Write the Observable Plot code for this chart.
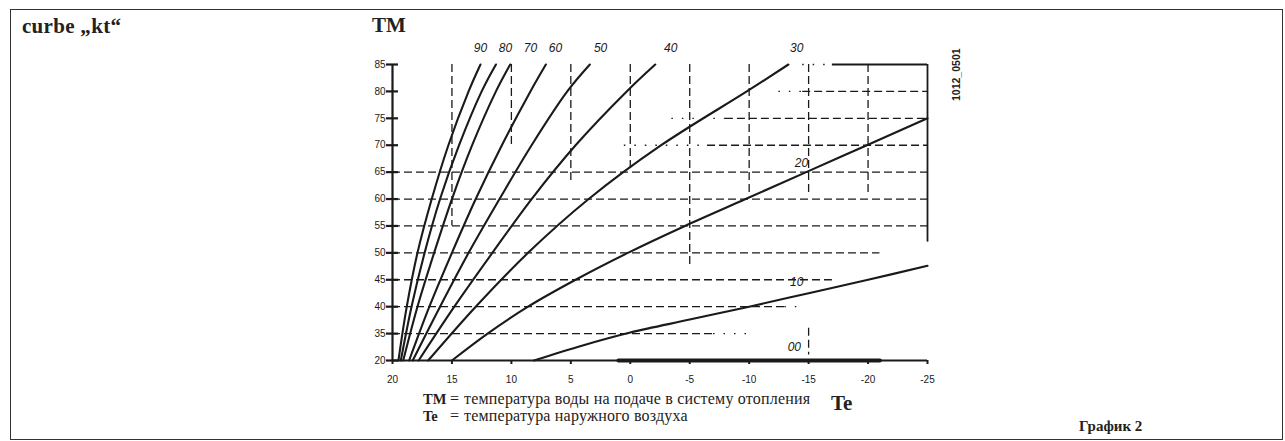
<!DOCTYPE html>
<html><head><meta charset="utf-8">
<script src="https://cdn.jsdelivr.net/npm/d3@7"></script>
<script src="https://cdn.jsdelivr.net/npm/@observablehq/plot@0.6"></script>
<style>
html,body{margin:0;padding:0;background:#fff;}
#wrap{position:relative;width:1285px;height:441px;overflow:hidden;font-family:"Liberation Serif","DejaVu Serif",serif;color:#222;}
#frame{position:absolute;left:10px;top:9px;width:1273px;height:431px;border:1.6px solid #333;box-sizing:border-box;}
.t{position:absolute;white-space:nowrap;line-height:1;}
#chart{position:absolute;left:0;top:0;}
</style></head>
<body><div id="wrap">
<div id="frame"></div>
<div id="chart"></div>
<div class="t" style="left:22px;top:16px;font-size:21px;font-weight:bold;letter-spacing:0.3px;">curbe „kt“</div>
<div class="t" style="left:372px;top:15px;font-size:21px;font-weight:bold;">TM</div>
<div class="t" style="left:423px;top:392px;font-size:14.5px;font-weight:bold;">TM</div>
<div class="t" style="left:450px;top:391px;font-size:16px;">=</div>
<div class="t" style="left:464px;top:391px;font-size:16px;letter-spacing:0.2px;">температура воды на подаче в систему отопления</div>
<div class="t" style="left:831px;top:393px;font-size:21px;font-weight:bold;">Te</div>
<div class="t" style="left:423px;top:409px;font-size:14.5px;font-weight:bold;">Te</div>
<div class="t" style="left:450px;top:408px;font-size:16px;">=</div>
<div class="t" style="left:464px;top:408px;font-size:16px;letter-spacing:0.2px;">температура наружного воздуха</div>
<div class="t" style="left:1079px;top:419px;font-size:15px;font-weight:bold;">График 2</div>
<div class="t" style="left:951px;top:101px;font-size:10.5px;font-weight:bold;font-family:'Liberation Sans',Arial,sans-serif;transform:rotate(-90deg);transform-origin:0 0;">1012_0501</div>
</div>
<script>
// Axis ticks (Te = outside temperature, TM = flow temperature; bottom of TM axis is broken and labelled 20)
const teTicks = [20, 15, 10, 5, 0, -5, -10, -15, -20, -25];
const teTickLabels = ["20", "15", "10", "5", "0", "-5", "-10", "-15", "-20", "-25"];
const tmTicks = [30, 35, 40, 45, 50, 55, 60, 65, 70, 75, 80, 85];
const tmTickLabels = ["20", "35", "40", "45", "50", "55", "60", "65", "70", "75", "80", "85"];

// Curves [Te, TM]
const curve90 = [[19.5,30],[18.8,40],[17.9,50],[16.7,60],[15.3,70],[13.6,80],[12.6,85]];
const curve80 = [[19.3,30],[18.4,40],[17.3,50],[16.0,60],[14.4,70],[12.5,80],[11.3,85]];
const curve70 = [[19.1,30],[17.9,40],[16.5,50],[15.0,60],[13.3,70],[11.3,80],[10.1,85]];
const curve60 = [[18.6,30],[16.9,40],[15.0,50],[13.0,60],[10.8,70],[8.4,80],[7.1,85]];
const curve50 = [[18.3,30],[16.0,40],[13.6,50],[11.0,60],[8.3,70],[5.3,80],[3.4,85]];
const curve40 = [[17.8,30],[14.8,40],[11.6,50],[8.3,60],[4.6,70],[0.3,80],[-2.1,85]];
const curve30 = [[17.0,30],[13.0,40],[8.6,50],[3.5,60],[-2.6,70],[-9.8,80],[-13.3,85]];
const curve20 = [[15,30],[12,35],[8.6,40],[4.6,45],[0.2,50],[-4.6,55],[-9.7,60],[-14.8,65],[-19.9,70],[-25,75]];
const curve10 = [[8.1,30],[4,32.8],[0,35.2],[-5,37.6],[-10,40],[-15,42.5],[-20,45],[-25,47.6]];
const curve00 = [[1,30],[-21,30]];

const curveNames = ["90","80","70","60","50","40","30","20","10","00"];
const curveLabelTe = [12.6, 10.5, 8.4, 6.3, 2.5, -3.4, -14, -14.4, -14, -13.8];
const curveLabelTm = [88, 88, 88, 88, 88, 88, 88, 66.6, 44.5, 32.4];

// Dashed grid: horizontal lines (TM value, Te start, Te end)
const hGridTm   = [80, 75, 70, 65, 60, 55, 50, 45, 40, 35];
const hGridFrom = [-14.5, -8, -6.5, 20, 20, 20, 20, 20, 20, 20];
const hGridTo   = [-25, -25, -25, -25, -25, -25, -21, -17, -13, -7];
// dotted fragments of the grid
const dotTm   = [85, 80, 75, 70, 40, 35];
const dotFrom = [-14.5, -12.5, -3.5, 0.5, -13, -7];
const dotTo   = [-17, -14.5, -8, -6.5, -14.5, -10];
// vertical lines (Te value, TM start, TM end)
const vGridTe   = [15, 10, 5, 0, -5, -10, -15, -15, -20];
const vGridFrom = [85, 85, 85, 85, 85, 85, 85, 36, 85];
const vGridTo   = [55, 70, 63, 65, 47.5, 61, 61, 31, 61];
// partial solid frame at the top right
const frameTopTm = 85, frameTopFrom = -17, frameTopTo = -25;
const frameRightTe = -25, frameRightFrom = 85, frameRightTo = 52;

const curves = [curve90, curve80, curve70, curve60, curve50, curve40, curve30, curve20, curve10];
const rows = curves.flatMap((c, i) => c.map(([te, tm]) => ({kt: curveNames[i], te, tm})));
const hGrid = hGridTm.map((v, i) => ({v, from: hGridFrom[i], to: hGridTo[i]}));
const dots = dotTm.map((v, i) => ({v, from: dotFrom[i], to: dotTo[i]}));
const vGrid = vGridTe.map((v, i) => ({v, from: vGridFrom[i], to: vGridTo[i]}));
const labels = curveNames.map((n, i) => ({n, te: curveLabelTe[i], tm: curveLabelTm[i]}));
const c00 = curve00.map(([te, tm]) => ({te, tm}));

const ink = "#1a1a1a";
const dash = "8,4";
const chart = Plot.plot({
  width: 1285, height: 441,
  marginLeft: 392, marginRight: 358, marginTop: 64, marginBottom: 81,
  x: {domain: [20, -25]},
  y: {domain: [30, 85]},
  style: {background: "transparent", fontFamily: "'Liberation Sans', Arial, sans-serif", fontSize: "10px", color: ink},
  marks: [
    Plot.ruleY(hGrid, {y: "v", x1: "from", x2: "to", stroke: ink, strokeWidth: 1.3, strokeDasharray: dash}),
    Plot.ruleY(dots, {y: "v", x1: "from", x2: "to", stroke: ink, strokeWidth: 1.3, strokeDasharray: "1.5,9"}),
    Plot.ruleX(vGrid, {x: "v", y1: "from", y2: "to", stroke: ink, strokeWidth: 1.3, strokeDasharray: dash}),
    Plot.ruleY([frameTopTm], {x1: frameTopFrom, x2: frameTopTo, stroke: ink, strokeWidth: 1.8}),
    Plot.ruleX([frameRightTe], {y1: frameRightFrom, y2: frameRightTo, stroke: ink, strokeWidth: 1.8}),
    Plot.line(rows, {x: "te", y: "tm", z: "kt", curve: "catmull-rom", stroke: ink, strokeWidth: 2.1}),
    Plot.line(c00, {x: "te", y: "tm", stroke: ink, strokeWidth: 4}),
    Plot.ruleX([20], {y1: 30, y2: 85, stroke: ink, strokeWidth: 2.2}),
    Plot.ruleY([30], {x1: 20, x2: -25, stroke: ink, strokeWidth: 2.2}),
    Plot.axisX({ticks: teTicks, tickFormat: d => teTickLabels[teTicks.indexOf(d)], tickSize: 4, tickPadding: 11, label: null, stroke: ink, strokeWidth: 2, fill: ink}),
    Plot.axisY({ticks: tmTicks, tickFormat: d => tmTickLabels[tmTicks.indexOf(d)], tickSize: 12, dx: 6, tickPadding: 1, label: null, stroke: ink, strokeWidth: 2.2, fill: ink}),
    Plot.text(labels, {x: "te", y: "tm", text: "n", fontStyle: "italic", fontSize: 12, fill: ink, clip: false})
  ]
});
document.getElementById("chart").appendChild(chart);
</script>
</body></html>
